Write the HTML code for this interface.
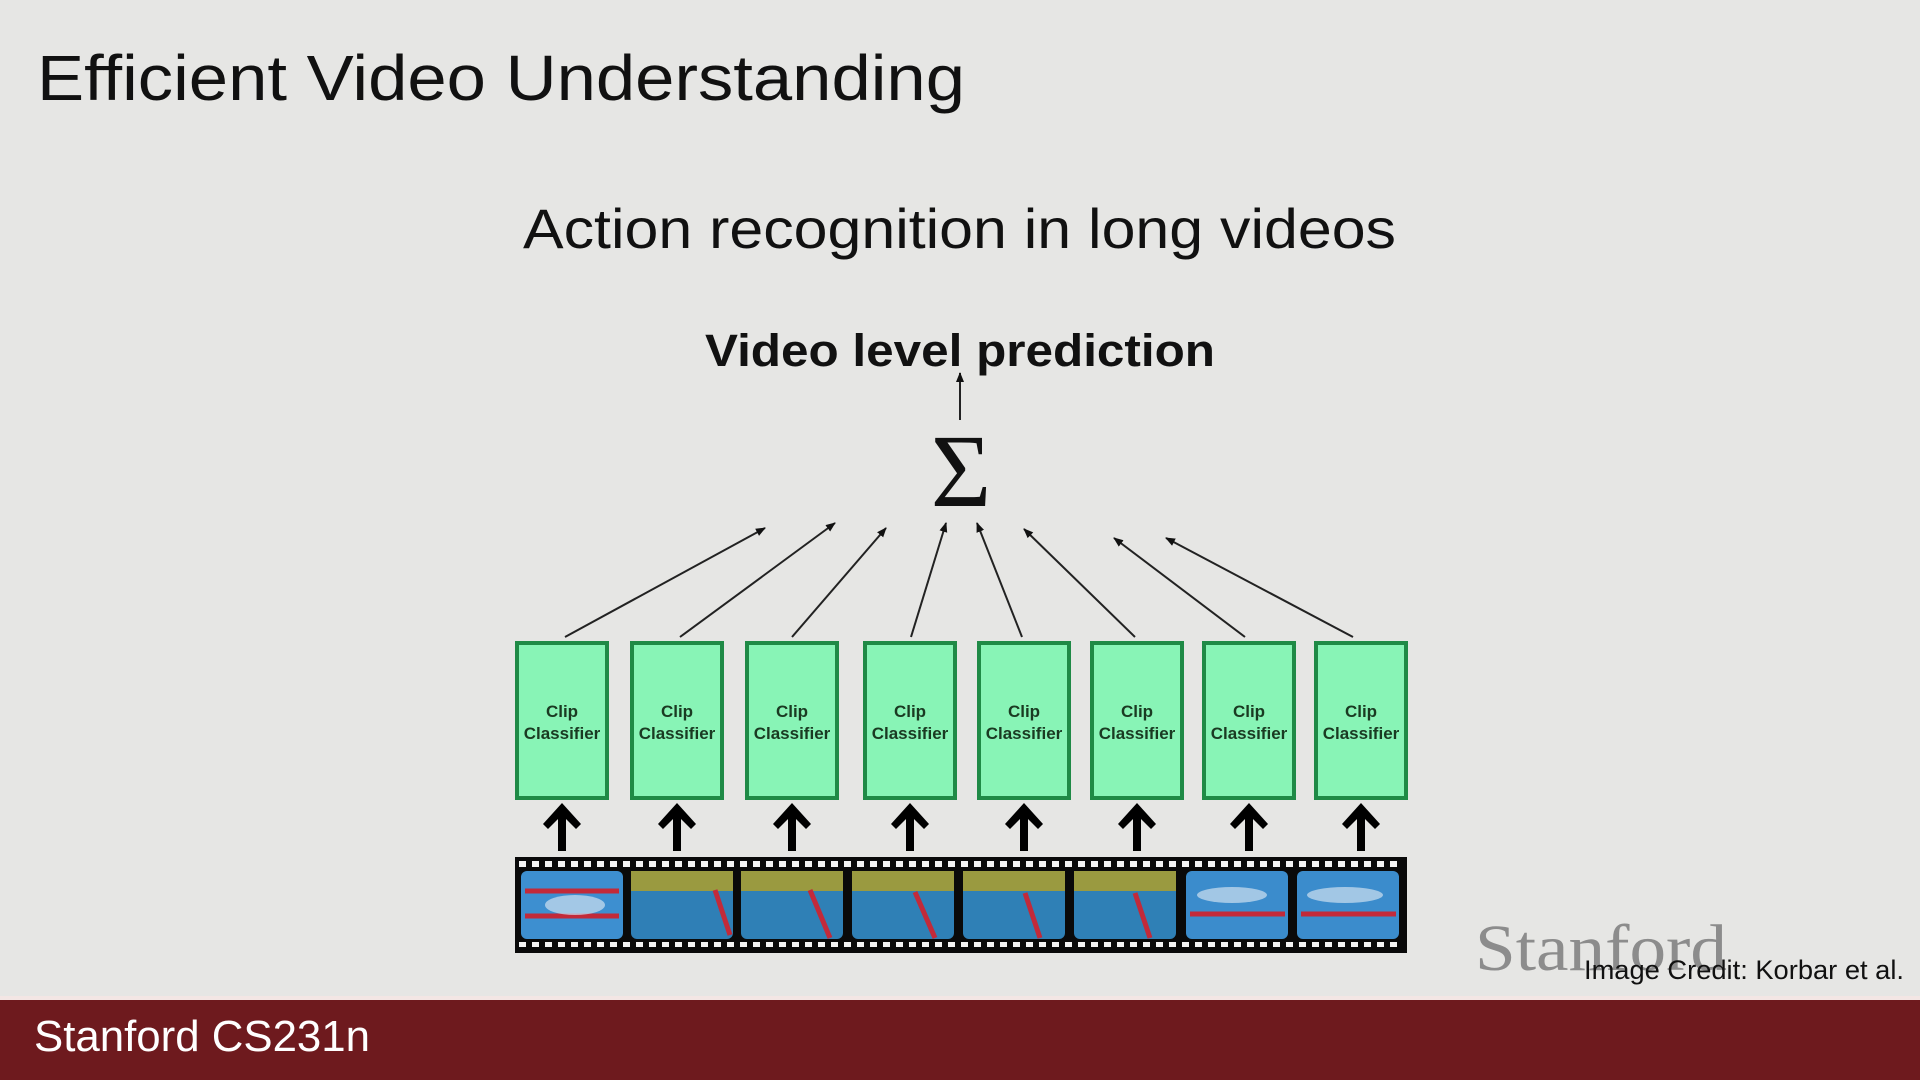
<!DOCTYPE html>
<html><head><meta charset="utf-8"><style>
html,body{margin:0;padding:0;width:1920px;height:1080px;overflow:hidden;background:#e6e6e4}
svg{display:block}
</style></head><body>
<svg width="1920" height="1080" viewBox="0 0 1920 1080" xmlns="http://www.w3.org/2000/svg">
<defs>
<marker id="ah" markerWidth="10" markerHeight="10" refX="9" refY="5" orient="auto" markerUnits="userSpaceOnUse">
<path d="M0,1 L10,5 L0,9 Z" fill="#111"/></marker>
</defs>
<rect width="1920" height="1080" fill="#e6e6e4"/>
<text x="37" y="100" font-family="Liberation Sans, sans-serif" font-size="64" fill="#111" textLength="928" lengthAdjust="spacingAndGlyphs">Efficient Video Understanding</text>
<text x="523" y="248" font-family="Liberation Sans, sans-serif" font-size="56" fill="#111" textLength="873" lengthAdjust="spacingAndGlyphs">Action recognition in long videos</text>
<text x="705" y="366" font-family="Liberation Sans, sans-serif" font-weight="bold" font-size="45" fill="#111" textLength="510" lengthAdjust="spacingAndGlyphs">Video level prediction</text>
<line x1="960" y1="420" x2="960" y2="373" stroke="#222" stroke-width="2" marker-end="url(#ah)"/>
<text x="961" y="506" text-anchor="middle" font-family="Liberation Serif, serif" font-size="104" fill="#111">Σ</text>
<g stroke="#222" stroke-width="2" marker-end="url(#ah)">
<line x1="565" y1="637" x2="765" y2="528"/>
<line x1="680" y1="637" x2="835" y2="523"/>
<line x1="792" y1="637" x2="886" y2="528"/>
<line x1="911" y1="637" x2="946" y2="523"/>
<line x1="1022" y1="637" x2="977" y2="523"/>
<line x1="1135" y1="637" x2="1024" y2="529"/>
<line x1="1245" y1="637" x2="1114" y2="538"/>
<line x1="1353" y1="637" x2="1166" y2="538"/>
</g>
<g fill="#88f4b6" stroke="#1f8a46" stroke-width="4">
<rect x="517" y="643" width="90" height="155"/>
<rect x="632" y="643" width="90" height="155"/>
<rect x="747" y="643" width="90" height="155"/>
<rect x="865" y="643" width="90" height="155"/>
<rect x="979" y="643" width="90" height="155"/>
<rect x="1092" y="643" width="90" height="155"/>
<rect x="1204" y="643" width="90" height="155"/>
<rect x="1316" y="643" width="90" height="155"/>
</g>
<g font-family="Liberation Sans, sans-serif" font-weight="bold" font-size="17" fill="#1a3a22" text-anchor="middle">
<text x="562" y="717">Clip</text><text x="562" y="739">Classifier</text>
<text x="677" y="717">Clip</text><text x="677" y="739">Classifier</text>
<text x="792" y="717">Clip</text><text x="792" y="739">Classifier</text>
<text x="910" y="717">Clip</text><text x="910" y="739">Classifier</text>
<text x="1024" y="717">Clip</text><text x="1024" y="739">Classifier</text>
<text x="1137" y="717">Clip</text><text x="1137" y="739">Classifier</text>
<text x="1249" y="717">Clip</text><text x="1249" y="739">Classifier</text>
<text x="1361" y="717">Clip</text><text x="1361" y="739">Classifier</text>
</g>
<g fill="#000">
<path id="ta" d="M0,0 L19,21 L14,26 L4,16 L4,48 L-4,48 L-4,16 L-14,26 L-19,21 Z" transform="translate(562,803)"/>
<use href="#ta" x="115"/><use href="#ta" x="230"/><use href="#ta" x="348"/><use href="#ta" x="462"/><use href="#ta" x="575"/><use href="#ta" x="687"/><use href="#ta" x="799"/>
</g>
<rect x="515" y="857" width="892" height="96" fill="#0a0a0a"/>
<pattern id="perf" x="519" y="0" width="13" height="10" patternUnits="userSpaceOnUse"><rect x="0" y="0" width="7" height="7" fill="#f4f4f4"/></pattern>
<rect x="519" y="861" width="884" height="7" fill="url(#perf)"/>
<rect x="519" y="942" width="884" height="7" fill="url(#perf)"/>
<g>
<rect x="521" y="871" width="102" height="68" rx="6" fill="#3d8fd0"/>
<rect x="631" y="871" width="102" height="68" rx="6" fill="#2f7fb6"/>
<rect x="741" y="871" width="102" height="68" rx="6" fill="#2f80b6"/>
<rect x="852" y="871" width="102" height="68" rx="6" fill="#2f80b6"/>
<rect x="963" y="871" width="102" height="68" rx="6" fill="#2f80b6"/>
<rect x="1074" y="871" width="102" height="68" rx="6" fill="#2f80b6"/>
<rect x="1186" y="871" width="102" height="68" rx="6" fill="#3b8ccc"/>
<rect x="1297" y="871" width="102" height="68" rx="6" fill="#3b8ccc"/>
<g fill="#9a9a40"><rect x="631" y="871" width="102" height="20"/><rect x="741" y="871" width="102" height="20"/><rect x="852" y="871" width="102" height="20"/><rect x="963" y="871" width="102" height="20"/><rect x="1074" y="871" width="102" height="20"/></g>
<g stroke="#c22a3a" stroke-width="5"><line x1="525" y1="891" x2="619" y2="891"/><line x1="525" y1="916" x2="619" y2="916"/><line x1="715" y1="890" x2="730" y2="935"/><line x1="810" y1="890" x2="830" y2="938"/><line x1="915" y1="892" x2="935" y2="938"/><line x1="1025" y1="893" x2="1040" y2="938"/><line x1="1135" y1="893" x2="1150" y2="938"/><line x1="1190" y1="914" x2="1285" y2="914"/><line x1="1301" y1="914" x2="1396" y2="914"/></g>
<g fill="#cfe0f0" opacity="0.7"><ellipse cx="1232" cy="895" rx="35" ry="8"/><ellipse cx="1345" cy="895" rx="38" ry="8"/><ellipse cx="575" cy="905" rx="30" ry="10"/></g>
</g>
<text x="1475" y="970" font-family="Liberation Serif, serif" font-size="66" fill="#8c8c8c" textLength="252" lengthAdjust="spacingAndGlyphs">Stanford</text>
<text x="1904" y="979" text-anchor="end" font-family="Liberation Sans, sans-serif" font-size="27" fill="#111" textLength="320" lengthAdjust="spacingAndGlyphs">Image Credit: Korbar et al.</text>
<rect x="0" y="996" width="1920" height="4" fill="#f3e6e4"/>
<rect x="0" y="1000" width="1920" height="80" fill="#6e1a1e"/>
<text x="34" y="1051" font-family="Liberation Sans, sans-serif" font-size="44" fill="#fff" textLength="336" lengthAdjust="spacingAndGlyphs">Stanford CS231n</text>
</svg>
</body></html>
